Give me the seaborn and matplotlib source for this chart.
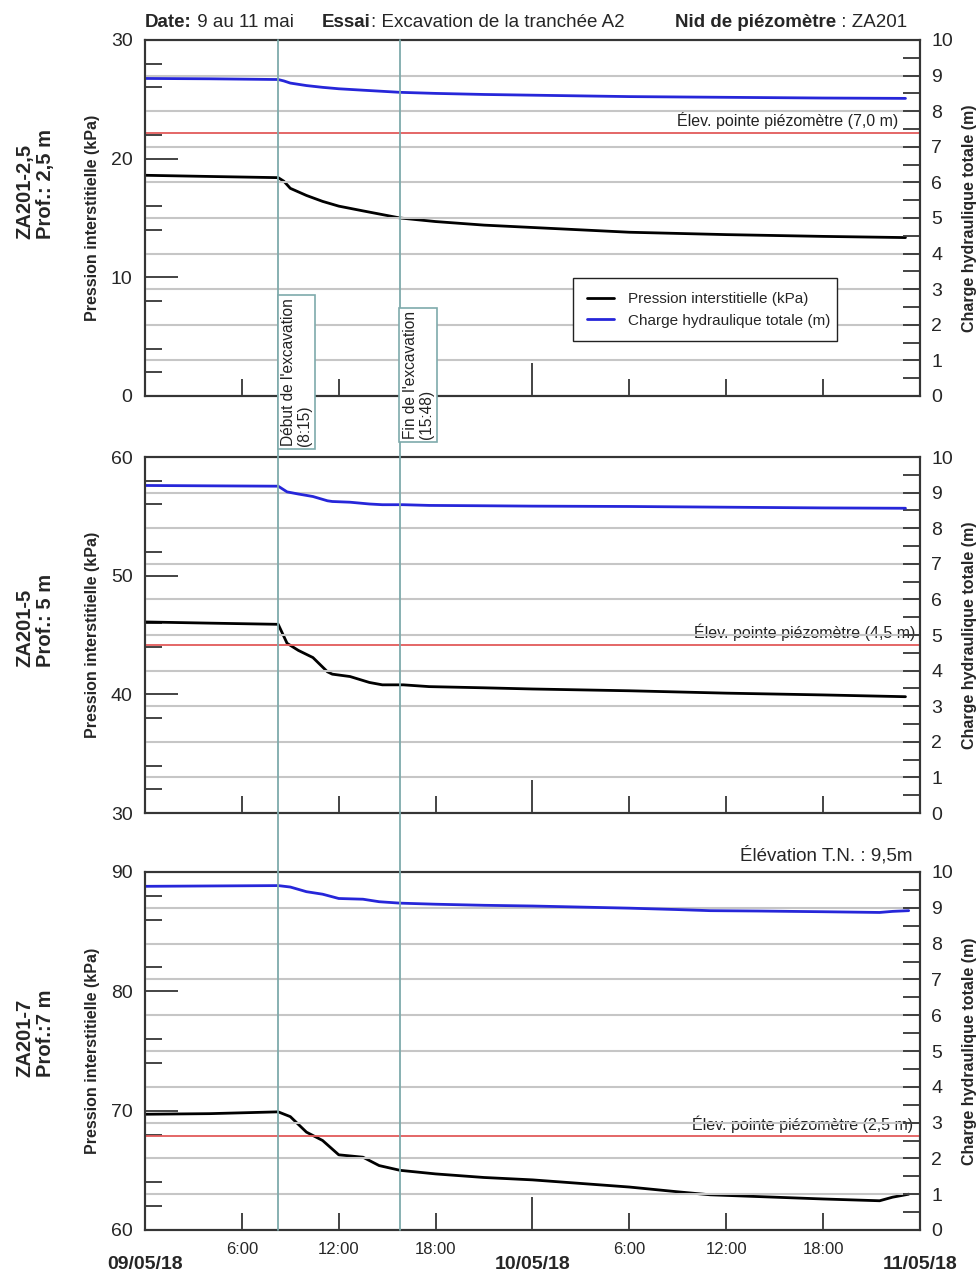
import numpy as np
import pandas as pd
import matplotlib
matplotlib.use('Agg')
import matplotlib.pyplot as plt
import matplotlib.transforms as mtrans
from matplotlib.lines import Line2D
from matplotlib.ticker import MultipleLocator, FixedLocator
import seaborn as sns

# Data (hours since 09/05/18 00:00)
t1 = [0, 4, 8.25, 8.6, 9, 10, 11, 12, 13.5, 15.8, 18, 21, 24, 30, 36, 42, 47.1]
p1 = [18.6, 18.5, 18.4, 18.1, 17.5, 16.9, 16.4, 16.0, 15.6, 15.0, 14.7, 14.4, 14.2, 13.8, 13.6, 13.45, 13.35]
h1 = [8.92, 8.91, 8.89, 8.85, 8.79, 8.72, 8.67, 8.63, 8.59, 8.53, 8.50, 8.47, 8.45, 8.41, 8.39, 8.37, 8.36]

t2 = [0, 4, 8.25, 8.8, 9.5, 10.4, 11.3, 11.6, 12.7, 13.9, 14.7, 16, 17.6, 21, 24, 30, 36, 42, 47.1]
p2 = [46.1, 46.0, 45.9, 44.3, 43.7, 43.1, 41.9, 41.7, 41.5, 41.0, 40.8, 40.8, 40.65, 40.55, 40.45, 40.3, 40.1, 39.95, 39.8]
h2 = [9.20, 9.19, 9.18, 9.02, 8.96, 8.89, 8.77, 8.75, 8.73, 8.68, 8.66, 8.66, 8.64, 8.63, 8.62, 8.61, 8.59, 8.57, 8.56]

t3 = [0, 4, 8.25, 9, 10, 11, 12, 13.5, 14.5, 15.8, 18, 21, 24, 27, 30, 33, 35, 38, 42, 45.5, 46.3, 47.3]
p3 = [69.7, 69.75, 69.9, 69.5, 68.2, 67.5, 66.3, 66.1, 65.4, 65.0, 64.7, 64.4, 64.2, 63.9, 63.6, 63.2, 62.95, 62.8, 62.6, 62.45, 62.75, 63.0]
h3 = [9.60, 9.61, 9.62, 9.58, 9.45, 9.38, 9.26, 9.24, 9.17, 9.13, 9.10, 9.07, 9.05, 9.02, 8.99, 8.95, 8.92, 8.91, 8.89, 8.87, 8.90, 8.92]

red_levels = [7.38, 4.72, 2.62]
left_lims = [(0, 30), (30, 60), (60, 90)]
panel_names = ['ZA201-2,5\nProf.: 2,5 m', 'ZA201-5\nProf.: 5 m', 'ZA201-7\nProf.:7 m']
elev_labels = ['Élev. pointe piézomètre (7,0 m)', 'Élev. pointe piézomètre (4,5 m)',
               'Élev. pointe piézomètre (2,5 m)']
events = [8.25, 15.8]
event_labels = ["Début de l'excavation\n(8:15)", "Fin de l'excavation\n(15:48)"]
day_ticks = [0, 24, 48]
day_labels = ['09/05/18', '10/05/18', '11/05/18']
hour_ticks = [6, 12, 18, 30, 36, 42]
hour_labels = ['6:00', '12:00', '18:00', '6:00', '12:00', '18:00']

series = [(t1, p1, h1), (t2, p2, h2), (t3, p3, h3)]

sns.set_theme(style='white')
plt.rcParams['font.family'] = ['Liberation Sans', 'DejaVu Sans']

W, H = 979, 1274
fig = plt.figure(figsize=(9.79, 12.74), dpi=100)

tops = [40, 457, 872]
bottoms = [396, 813, 1230]
spine_c = '#353535'
teal = '#7eaaab'

axes = []
for i in range(3):
    ax = fig.add_axes([145 / W, 1 - bottoms[i] / H, 775 / W, (bottoms[i] - tops[i]) / H])
    ax2 = ax.twinx()
    t, p, h = series[i]
    df = pd.DataFrame({'t': t, 'p': p, 'h': h})
    ax2.grid(True, axis='y', color='#c6c6c6', lw=1.5)
    ax2.grid(False, axis='x')
    ax.grid(False)
    sns.lineplot(data=df, x='t', y='p', ax=ax, color='black', lw=2, label='Pression interstitielle (kPa)')
    sns.lineplot(data=df, x='t', y='h', ax=ax2, color='#2626d9', lw=2, label='Charge hydraulique totale (m)')
    ax2.axhline(red_levels[i], color='#e25a5a', lw=1.3, zorder=1)
    for a in (ax, ax2):
        if a.get_legend():
            a.get_legend().remove()
        a.set_xlabel('')
        a.set_ylabel('')
        for s in a.spines.values():
            s.set_color(spine_c)
            s.set_linewidth(1.5)
    ax.set_xlim(0, 48)
    ax.set_ylim(*left_lims[i])
    ax2.set_ylim(0, 10)

    ax.xaxis.set_major_locator(FixedLocator(day_ticks))
    ax.xaxis.set_minor_locator(FixedLocator(hour_ticks))
    ax.tick_params(axis='x', which='major', direction='in', length=24, width=1.3,
                   bottom=True, top=False, color=spine_c)
    ax.tick_params(axis='x', which='minor', direction='in', length=12, width=1.3,
                   bottom=True, top=False, color=spine_c)
    if i == 2:
        ax.set_xticks(day_ticks, labels=day_labels, fontweight='bold', fontsize=14)
        ax.set_xticks(hour_ticks, labels=hour_labels, minor=True, fontsize=12)
        ax.tick_params(axis='x', which='major', pad=19)
        ax.tick_params(axis='x', which='minor', pad=9)
    else:
        ax.tick_params(axis='x', which='both', labelbottom=False)

    ax.yaxis.set_major_locator(MultipleLocator(10))
    ax.yaxis.set_minor_locator(MultipleLocator(2))
    ax.tick_params(axis='y', which='major', direction='in', length=24, width=1.3,
                   left=True, labelsize=14, pad=9, color=spine_c)
    ax.tick_params(axis='y', which='minor', direction='in', length=12, width=1.3,
                   left=True, color=spine_c)
    ax2.yaxis.set_major_locator(MultipleLocator(1))
    ax2.yaxis.set_minor_locator(MultipleLocator(0.5))
    ax2.tick_params(axis='y', which='both', direction='in', length=12, width=1.3,
                    right=True, labelsize=14, pad=8, color=spine_c)

    # elevation label (under the gridlines of the twin axis)
    ex = [0.9716, 0.9935, 0.991][i]
    ey = [0.775, 0.508, 0.296][i]
    ax.text(ex, ey, elev_labels[i], transform=ax.transAxes, ha='right', va='center',
            fontsize=11.5, color='#222222', zorder=0)

    cy = (tops[i] + bottoms[i]) / 2
    fig.text(93 / W, 1 - cy / H, 'Pression interstitielle (kPa)', rotation=90,
             ha='center', va='center', fontsize=11.5, fontweight='bold')
    fig.text(970 / W, 1 - cy / H, 'Charge hydraulique totale (m)', rotation=90,
             ha='center', va='center', fontsize=11.5, fontweight='bold')
    zy = [184, 620, 1033][i]
    fig.text(35 / W, 1 - zy / H, panel_names[i], rotation=90, ha='center', va='center',
             multialignment='left', fontsize=14.5, fontweight='bold', linespacing=1.1)
    axes.append((ax, ax2))

ax1, ax1b = axes[0]
ax3 = axes[2][0]

# legend
handles = [ax1.lines[0], ax1b.lines[0]]
leg = ax1b.legend(handles, [hd.get_label() for hd in handles], loc='upper left',
                  bbox_to_anchor=(0.552, 0.331, 0.3406, 0), mode='expand', borderaxespad=0,
                  fontsize=11, frameon=True, fancybox=False, framealpha=1, edgecolor='#222222',
                  handlelength=1.8, handletextpad=0.9, borderpad=0.9, labelspacing=0.5)
leg.get_frame().set_linewidth(1.0)

# event lines across all panels
tr = mtrans.blended_transform_factory(ax3.transData, fig.transFigure)
for ev in events:
    fig.add_artist(Line2D([ev, ev], [1 - 1230 / H, 1 - 40 / H], transform=tr,
                          color=teal, lw=1.3, zorder=5))

ev_y = [372, 375]
for ev, lab, yy in zip(events, event_labels, ev_y):
    fig.text(ev, 1 - yy / H, lab,
             transform=tr + mtrans.ScaledTranslation(2.5 / 100, 0, fig.dpi_scale_trans),
             rotation=90, ha='left', va='center', fontsize=11.2, linespacing=1.1,
             zorder=6, color='#222222',
             bbox=dict(boxstyle='square,pad=0.2', fc='white', ec=teal, lw=1.2))

# header
def header_group(x_px, parts):
    prev = fig.text(x_px / W, 1 - 31 / H, parts[0][0], fontsize=13.5, fontweight=parts[0][1],
                    va='bottom', ha='left')
    for s, w in parts[1:]:
        prev = ax1.annotate(s, xy=(1, 0), xycoords=prev, va='bottom', ha='left',
                            fontsize=13.5, fontweight=w, annotation_clip=False)

header_group(145, [('Date:', 'bold'), (' 9 au 11 mai', 'normal')])
header_group(322, [('Essai', 'bold'), (': Excavation de la tranchée A2', 'normal')])
header_group(675, [('Nid de piézomètre', 'bold'), (' : ZA201', 'normal')])

fig.text(913 / W, 1 - 855 / H, 'Élévation T.N. : 9,5m', ha='right', va='center', fontsize=13.5)

fig.savefig('out.png', dpi=100)
